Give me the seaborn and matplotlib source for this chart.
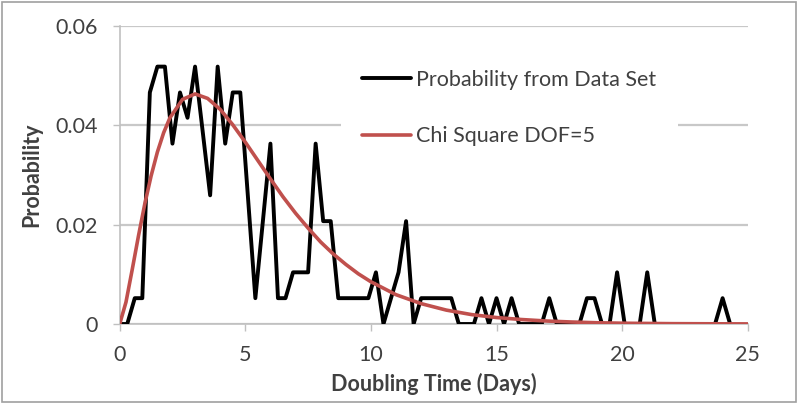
import numpy as np
import pandas as pd
import matplotlib.pyplot as plt
import seaborn as sns
from matplotlib.patches import Rectangle

# observed probability, one bin every 0.3 days
days = np.round(np.arange(82) * 0.3, 1)
prob = [0, 0, 0.0052, 0.0052, 0.0466, 0.0518, 0.0518, 0.0363, 0.0466, 0.0415,
        0.0518, 0.0389, 0.0259, 0.0518, 0.0363, 0.0466, 0.0466, 0.0259, 0.0052, 0.0207,
        0.0363, 0.0052, 0.0052, 0.0104, 0.0104, 0.0104, 0.0363, 0.0207, 0.0207, 0.0052,
        0.0052, 0.0052, 0.0052, 0.0052, 0.0104, 0, 0.0052, 0.0104, 0.0207, 0,
        0.0052, 0.0052, 0.0052, 0.0052, 0.0052, 0, 0, 0, 0.0052, 0,
        0.0052, 0, 0.0052, 0, 0, 0, 0, 0.0052, 0, 0,
        0, 0, 0.0052, 0.0052, 0, 0, 0.0104, 0, 0, 0,
        0.0104, 0, 0, 0, 0, 0, 0, 0, 0, 0,
        0.0052, 0]

# chi square fit (DOF=5)
chi_x = [0, 0.25, 0.5, 0.75, 1.0, 1.25, 1.5, 1.75, 2.0, 2.5, 3.0, 3.5, 4.0, 4.5, 5.0,
         5.5, 6.0, 6.5, 7.0, 7.5, 8.0, 8.5, 9.0, 9.5, 10, 11, 12, 13, 14, 15,
         16, 17, 18, 19, 20, 22, 25]
chi_y = [0, 0.0044, 0.0110, 0.0178, 0.0242, 0.0298, 0.0346, 0.0385, 0.0415, 0.0452, 0.0463,
         0.0454, 0.0432, 0.0401, 0.0366, 0.0329, 0.0292, 0.0256, 0.0223, 0.0193, 0.0165,
         0.0141, 0.0120, 0.0101, 0.0085, 0.0059, 0.0041, 0.0028, 0.0019, 0.0013, 0.0009,
         0.0006, 0.0004, 0.00025, 0.00016, 0.00007, 0.00002]

data = pd.DataFrame({"days": days, "prob": prob})
fit = pd.DataFrame({"days": chi_x, "prob": chi_y})

sns.set_style("white")
plt.rcParams['font.family'] = ['Lato', 'DejaVu Sans']

fig = plt.figure(figsize=(7.98, 4.04), dpi=100)
ax = fig.add_axes([0.150, 0.198, 0.787, 0.738])

sns.lineplot(data=data, x="days", y="prob", ax=ax, color="black", lw=2.8,
             label="Probability from Data Set", zorder=3)
sns.lineplot(data=fit, x="days", y="prob", ax=ax, color="#C0504D", lw=2.6,
             label="Chi Square DOF=5", zorder=4)

ax.set_xlim(0, 25)
ax.set_ylim(0, 0.06)
ax.set_xticks([0, 5, 10, 15, 20, 25])
ax.set_yticks([0, 0.02, 0.04, 0.06])
ax.set_yticklabels(["0", "0.02", "0.04", "0.06"])
ax.yaxis.grid(True, color="#C8C8C8", lw=1.6)
ax.set_axisbelow(True)

for s in ["top", "right"]:
    ax.spines[s].set_visible(False)
for s in ["left", "bottom"]:
    ax.spines[s].set_color("#C0C0C0")
    ax.spines[s].set_linewidth(1.2)

ax.tick_params(axis="both", labelsize=15.5, colors="#C0C0C0", labelcolor="#404040",
               length=5, width=1, direction="out", left=True, bottom=True)
ax.tick_params(axis="x", pad=10)
ax.tick_params(axis="y", pad=11)

ax.set_xlabel("Doubling Time (Days)", fontsize=15.5, fontweight="bold", color="#404040",
              labelpad=6)
ax.set_ylabel("Probability", fontsize=15.5, fontweight="bold", color="#404040", labelpad=9)

leg = ax.legend(loc="upper left", bbox_to_anchor=(0.352, 0.925), fontsize=15.5,
                frameon=True, facecolor="white", edgecolor="none", framealpha=1,
                handlelength=2.25, handletextpad=0.25, labelspacing=1.7,
                borderpad=1.0, borderaxespad=0, fancybox=False)
for t in leg.get_texts():
    t.set_color("#404040")

# chart border
fig.patches.append(Rectangle((0.003, 0.004), 0.994, 0.992, transform=fig.transFigure,
                             fill=False, edgecolor="#A0A0A0", lw=1.2))

plt.savefig("out.png", dpi=100)
plt.close()
